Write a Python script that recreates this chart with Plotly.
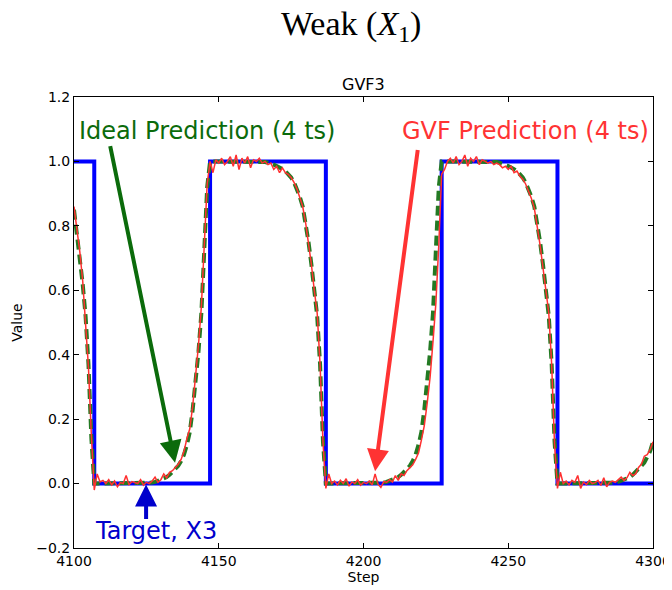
import plotly.graph_objects as go

# ---------------- data ----------------
steps = list(range(4100, 4301))

target_x = [4100, 4107, 4107, 4147, 4147, 4187, 4187, 4227, 4227, 4267, 4267, 4300]
target_y = [1, 1, 0, 0, 1, 1, 0, 0, 1, 1, 0, 0]

ideal = [
    0.85, 0.78, 0.71, 0.62, 0.52, 0.37, 0.14, 0.0, 0.0, 0.0,          # 4100
    0.0, 0.0, 0.0, 0.0, 0.0, 0.0, 0.0, 0.0, 0.0, 0.0,                 # 4110
    0.0, 0.0, 0.0, 0.0, 0.001, 0.001, 0.002, 0.003, 0.005, 0.008,     # 4120
    0.011, 0.015, 0.02, 0.027, 0.035, 0.045, 0.055, 0.07, 0.09, 0.12, # 4130
    0.16, 0.23, 0.31, 0.41, 0.53, 0.72, 0.92, 1.0, 1.0, 1.0,          # 4140
    1.0, 1.0, 1.0, 1.0, 1.0, 1.0, 1.0, 1.0, 1.0, 1.0,                 # 4150
    1.0, 1.0, 1.0, 1.0, 1.0, 1.0, 0.998, 0.996, 0.994, 0.99,          # 4160
    0.986, 0.982, 0.976, 0.97, 0.96, 0.95, 0.935, 0.915, 0.89, 0.86,  # 4170
    0.81, 0.75, 0.68, 0.60, 0.52, 0.37, 0.13, 0.0, 0.0, 0.0,          # 4180
    0.0, 0.0, 0.0, 0.0, 0.0, 0.0, 0.0, 0.0, 0.0, 0.0,                 # 4190
    0.0, 0.0, 0.0, 0.0, 0.001, 0.001, 0.002, 0.003, 0.005, 0.008,     # 4200
    0.011, 0.015, 0.02, 0.027, 0.035, 0.045, 0.055, 0.07, 0.09, 0.12, # 4210
    0.16, 0.23, 0.31, 0.41, 0.53, 0.72, 0.92, 1.0, 1.0, 1.0,          # 4220
    1.0, 1.0, 1.0, 1.0, 1.0, 1.0, 1.0, 1.0, 1.0, 1.0,                 # 4230
    1.0, 1.0, 1.0, 1.0, 1.0, 1.0, 0.998, 0.996, 0.994, 0.99,          # 4240
    0.986, 0.982, 0.976, 0.97, 0.96, 0.95, 0.935, 0.915, 0.89, 0.86,  # 4250
    0.81, 0.75, 0.68, 0.60, 0.52, 0.37, 0.13, 0.0, 0.0, 0.0,          # 4260
    0.0, 0.0, 0.0, 0.0, 0.0, 0.0, 0.0, 0.0, 0.0, 0.0,                 # 4270
    0.0, 0.0, 0.0, 0.0, 0.001, 0.001, 0.002, 0.003, 0.005, 0.008,     # 4280
    0.011, 0.015, 0.02, 0.027, 0.035, 0.045, 0.055, 0.065, 0.08, 0.10,# 4290
    0.13,                                                              # 4300
]

gvf = [
    0.86, 0.79, 0.72, 0.63, 0.51, 0.36, 0.15, -0.02, 0.03, 0.005,          # 4100
    0.01, 0.0, 0.012, -0.004, 0.008, -0.01, 0.003, 0.0, 0.025, -0.003,      # 4110
    0.006, 0.002, 0.0, 0.012, -0.005, 0.004, 0.0, 0.008, 0.02, 0.004,       # 4120
    0.012, 0.03, 0.018, 0.035, 0.04, 0.05, 0.06, 0.075, 0.10, 0.14,         # 4130
    0.17, 0.24, 0.33, 0.43, 0.55, 0.73, 0.93, 1.0, 0.965, 1.005,            # 4140
    0.995, 1.01, 0.99, 1.0, 1.015, 0.985, 1.02, 0.975, 1.01, 0.995,         # 4150
    1.015, 0.98, 1.005, 1.0, 1.01, 0.995, 1.0, 0.99, 0.995, 0.975,          # 4160
    0.985, 0.965, 0.98, 0.965, 0.96, 0.95, 0.935, 0.915, 0.89, 0.86,        # 4170
    0.81, 0.75, 0.68, 0.60, 0.53, 0.37, 0.13, -0.015, 0.03, 0.0,            # 4180
    0.008, -0.004, 0.01, 0.0, 0.015, -0.008, 0.005, 0.0, 0.012, -0.005,     # 4190
    0.004, 0.0, 0.008, -0.004, 0.03, -0.002, -0.012, 0.006, 0.004, 0.012,   # 4200
    0.005, 0.025, 0.01, 0.03, 0.025, 0.04, 0.05, 0.058, 0.075, 0.095,       # 4210
    0.135, 0.18, 0.25, 0.33, 0.44, 0.56, 0.74, 0.96, 0.975, 1.0,            # 4220
    1.01, 0.995, 1.015, 0.99, 1.0, 1.02, 0.985, 1.01, 1.0, 1.015,           # 4230
    0.99, 1.005, 1.0, 0.995, 1.0, 0.99, 0.995, 0.99, 0.98, 0.985,           # 4240
    0.975, 0.985, 0.965, 0.97, 0.955, 0.945, 0.93, 0.91, 0.885, 0.855,      # 4250
    0.80, 0.74, 0.67, 0.60, 0.53, 0.37, 0.12, -0.015, 0.035, 0.0,           # 4260
    0.008, -0.004, 0.01, 0.004, 0.025, -0.015, 0.005, -0.003, 0.01, 0.0,    # 4270
    0.003, 0.01, -0.006, 0.018, -0.01, 0.004, 0.008, 0.004, 0.012, 0.02,    # 4280
    0.01, 0.018, 0.035, 0.025, 0.03, 0.05, 0.06, 0.085, 0.09, 0.105,        # 4290
    0.13,                                                                   # 4300
]

x_ticks = [4100, 4150, 4200, 4250, 4300]
y_ticks = [-0.2, 0.0, 0.2, 0.4, 0.6, 0.8, 1.0, 1.2]

BLUE = "#0000ff"
GREEN_LINE = "#237a23"
GREEN_TEXT = "#0b6b0b"
RED = "#ff3030"
TEXT_BLUE = "#0000cc"
FONT = "DejaVu Sans"

fig = go.Figure()
fig.add_trace(go.Scatter(x=target_x, y=target_y, mode="lines",
                         line=dict(color=BLUE, width=4), name="Target, X3"))
fig.add_trace(go.Scatter(x=steps, y=ideal, mode="lines",
                         line=dict(color=GREEN_LINE, width=4, dash="10px,5px"),
                         name="Ideal Prediction"))
fig.add_trace(go.Scatter(x=steps, y=gvf, mode="lines",
                         line=dict(color=RED, width=1.5), name="GVF Prediction"))

axis_common = dict(showline=True, linecolor="black", linewidth=1, mirror="allticks",
                   ticks="inside", ticklen=5, tickcolor="black", tickwidth=1,
                   showgrid=False, zeroline=False, automargin=False,
                   tickfont=dict(family=FONT, size=14, color="black"))

fig.update_xaxes(range=[4100, 4300], tickvals=x_ticks, **axis_common,
                 title=dict(text="Step", font=dict(family=FONT, size=14, color="black"),
                            standoff=2))
fig.update_yaxes(range=[-0.2, 1.2], tickvals=y_ticks, tickformat=".1f", **axis_common,
                 title=dict(text="Value", font=dict(family=FONT, size=14, color="black"),
                            standoff=10))

ann = []
ann.append(dict(text="Weak (<i>X</i><sub>1</sub>)", xref="paper", yref="paper",
                x=0.4784, y=1.158, xanchor="center", yanchor="middle", showarrow=False,
                font=dict(family="Liberation Serif", size=34, color="black")))
ann.append(dict(text="GVF3", xref="paper", yref="paper", x=0.5, y=1.0,
                yanchor="bottom", yshift=1, showarrow=False,
                font=dict(family=FONT, size=16, color="black")))
ann.append(dict(text="Ideal Prediction (4 ts)", x=4145.8, y=1.093, xref="x", yref="y",
                showarrow=False, font=dict(family=FONT, size=24, color=GREEN_TEXT)))
ann.append(dict(text="", x=4134.9, y=0.065, ax=4112.4, ay=1.052, xref="x", yref="y",
                axref="x", ayref="y", showarrow=True, arrowhead=2, arrowsize=1.1,
                arrowwidth=4, arrowcolor=GREEN_TEXT))
ann.append(dict(text="GVF Prediction (4 ts)", x=4256.1, y=1.093, xref="x", yref="y",
                showarrow=False, font=dict(family=FONT, size=24, color="#ff3333")))
ann.append(dict(text="", x=4204.0, y=0.038, ax=4218.8, ay=1.04, xref="x", yref="y",
                axref="x", ayref="y", showarrow=True, arrowhead=2, arrowsize=1.1,
                arrowwidth=4, arrowcolor="#ff3333"))
ann.append(dict(text="Target, X3", x=4128.3, y=-0.148, xref="x", yref="y",
                showarrow=False, font=dict(family=FONT, size=24, color=TEXT_BLUE)))
ann.append(dict(text="", x=4124.9, y=-0.003, ax=4124.9, ay=-0.115, xref="x", yref="y",
                axref="x", ayref="y", showarrow=True, arrowhead=2, arrowsize=1.1,
                arrowwidth=4, arrowcolor=TEXT_BLUE))

# page body has an 8px default margin, so the figure is offset by 8px in the window
W, H = 664, 582
fig.update_layout(
    width=W, height=H,
    margin=dict(l=66, r=19, t=89, b=42, autoexpand=False),
    plot_bgcolor="white", paper_bgcolor="white",
    showlegend=False,
    annotations=ann,
)

fig.write_html("out.html")
